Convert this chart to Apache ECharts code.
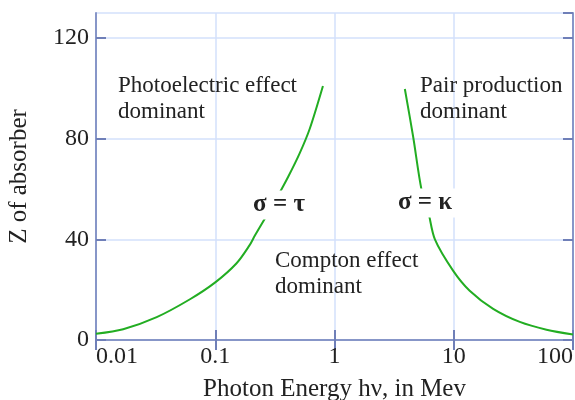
<!DOCTYPE html>
<html>
<head>
<meta charset="utf-8">
<script src="https://cdn.jsdelivr.net/npm/echarts@6/dist/echarts.min.js"></script>
<style>
html,body{margin:0;padding:0;background:#fff;}
#chart{width:575px;height:400px;}
</style>
</head>
<body>
<div id="chart"></div>
<script>
// Data
const photoE = [0.01, 0.0169, 0.0323, 0.0614, 0.1, 0.151, 0.193, 0.215, 0.27, 0.337, 0.41, 0.51, 0.62, 0.80];
const photoZ = [2.5, 4.3, 9.1, 16.2, 22.9, 30.5, 37.5, 41.5, 49.5, 57.5, 65, 74.2, 84, 101];
const pairE = [3.89, 4.57, 5.37, 6.1, 6.95, 9.9, 13.6, 21.4, 35.8, 60, 100];
const pairZ = [99.8, 80.7, 59.7, 51.2, 40, 27.5, 19.6, 12.4, 7.2, 4.1, 2.2];
const yTicks = [0, 40, 80, 120];
const xLabels = ['0.01', '0.1', '1', '10', '100'];

const frameColor = '#8796c8';
const tickColor = '#6f7fb8';
const gridColor = '#d3e1fb';
const curveColor = '#22ad22';
const textColor = '#222222';
const serif = '"Liberation Serif", "Times New Roman", serif';

const chart = echarts.init(document.getElementById('chart'), null, {renderer: 'canvas'});

const baseX = {
  type: 'log', logBase: 10, min: 0.01, max: 100,
  axisLine: {show: true, lineStyle: {color: frameColor, width: 2}},
  axisTick: {show: true, inside: true, length: 10, lineStyle: {color: tickColor, width: 2}},
  minorTick: {show: false}
};
const baseY = {
  type: 'value', min: 0, max: 130, interval: 40,
  axisLine: {show: true, lineStyle: {color: frameColor, width: 2}},
  axisTick: {show: true, inside: true, length: 10, lineStyle: {color: tickColor, width: 2}}
};

chart.setOption({
  animation: false,
  grid: {left: 96, right: 2, top: 13, bottom: 60, containLabel: false, outerBoundsMode: 'none'},
  xAxis: [
    Object.assign({}, baseX, {
      position: 'bottom',
      name: 'Photon Energy h\u03bd, in Mev',
      nameLocation: 'middle', nameGap: 37,
      nameTextStyle: {fontFamily: serif, fontSize: 25, color: textColor},
      splitLine: {show: true, lineStyle: {color: gridColor, width: 1.5}},
      axisLabel: {
        fontFamily: serif, fontSize: 24, color: textColor, margin: 5,
        alignMinLabel: 'left', alignMaxLabel: 'right',
        formatter: function (v) {
          const i = Math.round(Math.log10(v)) + 2;
          return xLabels[i] !== undefined ? xLabels[i] : '';
        }
      }
    }),
    Object.assign({}, baseX, {
      position: 'top',
      splitLine: {show: false},
      axisLabel: {show: false}
    })
  ],
  yAxis: [
    Object.assign({}, baseY, {
      position: 'left',
      name: 'Z of absorber',
      nameLocation: 'middle', nameGap: 64, nameRotate: 90,
      nameTextStyle: {fontFamily: serif, fontSize: 25, color: textColor},
      splitLine: {show: true, lineStyle: {color: gridColor, width: 1.5}},
      axisLabel: {
        fontFamily: serif, fontSize: 24, color: textColor, margin: 7,
        showMaxLabel: false,
        formatter: function (v) { return yTicks.indexOf(v) >= 0 ? String(v) : ''; }
      }
    }),
    Object.assign({}, baseY, {
      position: 'right',
      splitLine: {show: false},
      axisLabel: {show: false}
    })
  ],
  series: [
    {
      type: 'line', xAxisIndex: 0, yAxisIndex: 0,
      data: photoE.map((e, i) => [e, photoZ[i]]),
      smooth: 0.3, showSymbol: false, symbol: 'none',
      lineStyle: {color: curveColor, width: 2}
    },
    {
      type: 'line', xAxisIndex: 0, yAxisIndex: 0,
      data: pairE.map((e, i) => [e, pairZ[i]]),
      smooth: 0.3, showSymbol: false, symbol: 'none',
      lineStyle: {color: curveColor, width: 2}
    }
  ],
  graphic: [
    {type: 'text', left: 118, top: 73, z: 100,
     style: {text: 'Photoelectric effect\ndominant', fontFamily: serif, fontSize: 23, lineHeight: 26, fill: textColor}},
    {type: 'text', left: 420, top: 73, z: 100,
     style: {text: 'Pair production\ndominant', fontFamily: serif, fontSize: 23, lineHeight: 26, fill: textColor}},
    {type: 'text', left: 275, top: 248, z: 100,
     style: {text: 'Compton effect\ndominant', fontFamily: serif, fontSize: 23, lineHeight: 26, fill: textColor}},
    {type: 'text', x: 279, y: 205, z: 100,
     style: {text: '\u03c3 = \u03c4', fontFamily: serif, fontWeight: 'bold', fontSize: 25, fill: textColor,
             align: 'center', verticalAlign: 'middle', backgroundColor: '#fff', padding: [2, 3]}},
    {type: 'text', x: 425, y: 203, z: 100,
     style: {text: '\u03c3 = \u03ba', fontFamily: serif, fontWeight: 'bold', fontSize: 25, fill: textColor,
             align: 'center', verticalAlign: 'middle', backgroundColor: '#fff', padding: [2, 3]}}
  ]
});
</script>
</body>
</html>
